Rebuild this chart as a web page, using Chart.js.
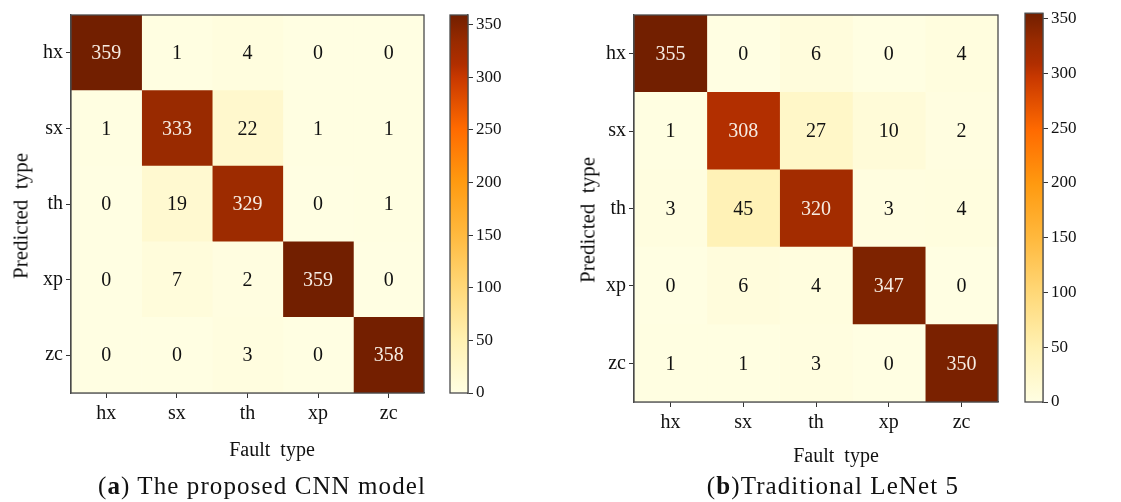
<!DOCTYPE html>
<html>
<head>
<meta charset="utf-8">
<script src="https://cdn.jsdelivr.net/npm/chart.js@4.4.1/dist/chart.umd.min.js"></script>
<style>
  body { margin: 0; background: #fff; width: 1121px; height: 502px; position: relative; overflow: hidden; font-family: "Liberation Serif", serif; color: #111; }
  .box { position: absolute; }
  .cap { position: absolute; top: 472px; font-size: 25px; letter-spacing: 1.1px; white-space: nowrap; transform: translateX(-50%); }
  .xt { position: absolute; font-size: 20px; white-space: pre; transform: translate(-50%, -50%); }
  .yt { position: absolute; font-size: 21px; white-space: pre; transform: translate(-50%, -50%) rotate(-90deg); }
</style>
</head>
<body>
<div class="box" style="left:0;top:0;width:440px;height:470px"><canvas id="matA"></canvas></div>
<div class="box" style="left:440px;top:0;width:80px;height:470px"><canvas id="barA"></canvas></div>
<div class="box" style="left:560px;top:0;width:440px;height:470px"><canvas id="matB"></canvas></div>
<div class="box" style="left:1005px;top:0;width:116px;height:470px"><canvas id="barB"></canvas></div>
<div class="yt" style="left:21px;top:216px">Predicted  type</div>
<div class="xt" style="left:272px;top:449px">Fault  type</div>
<div class="yt" style="left:588px;top:220px">Predicted  type</div>
<div class="xt" style="left:836px;top:455px">Fault  type</div>
<div class="cap" style="left:262px">(<b>a</b>) The proposed CNN model</div>
<div class="cap" style="left:833px">(<b>b</b>)Traditional LeNet 5</div>

<script>
// kategori kelas gangguan
const types = ['hx', 'sx', 'th', 'xp', 'zc'];

// confusion matrix (baris = predicted, kolom = fault type)
const cnnMatrix = [
    [359, 1, 4, 0, 0],
    [1, 333, 22, 1, 1],
    [0, 19, 329, 0, 1],
    [0, 7, 2, 359, 0],
    [0, 0, 3, 0, 358]
];
const lenetMatrix = [
    [355, 0, 6, 0, 4],
    [1, 308, 27, 10, 2],
    [3, 45, 320, 3, 4],
    [0, 6, 4, 347, 0],
    [1, 1, 3, 0, 350]
];
const cnnMax = 359;
const lenetMax = 355;
const cbTicks = [0, 50, 100, 150, 200, 250, 300, 350];

// colormap kira-kira seperti di gambar
const cmapStops = [
    [0.00, '#fffee2'],
    [0.14, '#fff1b2'],
    [0.28, '#ffd878'],
    [0.42, '#ffb93e'],
    [0.56, '#ff9a10'],
    [0.70, '#ff6a00'],
    [0.835, '#c83800'],
    [0.87, '#b02e00'],
    [0.93, '#982a00'],
    [1.00, '#721f00']
];

function hexRgb(h) {
    return [1, 3, 5].map(i => parseInt(h.substr(i, 2), 16));
}

function cmap(t) {
    t = Math.max(0, Math.min(1, t));
    for (let k = 1; k < cmapStops.length; k++) {
        const [t1, c1] = cmapStops[k];
        if (t <= t1) {
            const [t0, c0] = cmapStops[k - 1];
            const f = (t - t0) / (t1 - t0);
            const a = hexRgb(c0), b = hexRgb(c1);
            const c = a.map((v, i) => Math.round(v + (b[i] - v) * f));
            return `rgb(${c[0]},${c[1]},${c[2]})`;
        }
    }
    return cmapStops[cmapStops.length - 1][1];
}

const serif = '"Liberation Serif", "Times New Roman", serif';
const ink = '#111';
const frameColor = '#4a4a4a';

// bingkai di sekeliling area chart
const framePlugin = {
    id: 'frame',
    afterDraw(chart) {
        const a = chart.chartArea, c = chart.ctx;
        c.save();
        c.strokeStyle = frameColor;
        c.lineWidth = 1.3;
        c.strokeRect(a.left, a.top, a.width, a.height);
        c.restore();
    }
};

// angka di dalam sel
const cellTextPlugin = {
    id: 'cellText',
    afterDatasetsDraw(chart) {
        const c = chart.ctx;
        const { matrix, vmax } = chart.options.plugins.cellText;
        c.save();
        c.font = '20px ' + serif;
        c.textAlign = 'center';
        c.textBaseline = 'middle';
        chart.data.datasets.forEach((ds, j) => {
            chart.getDatasetMeta(j).data.forEach((el, i) => {
                const v = matrix[i][j];
                c.fillStyle = v > vmax * 0.5 ? '#f6ece2' : ink;
                c.fillText(String(v), (el.x + el.base) / 2, el.y + 1);
            });
        });
        c.restore();
    }
};

function makeMatrix(id, matrix, vmax, g) {
    const datasets = types.map((t, j) => ({
        label: t,
        data: types.map(() => [j, j + 1]),
        backgroundColor: matrix.map(row => cmap(row[j] / vmax)),
        borderWidth: 0,
        grouped: false,
        barPercentage: 1,
        categoryPercentage: 1
    }));
    return new Chart(document.getElementById(id), {
        type: 'bar',
        data: { labels: types, datasets: datasets },
        plugins: [cellTextPlugin, framePlugin],
        options: {
            indexAxis: 'y',
            responsive: true,
            maintainAspectRatio: false,
            animation: false,
            layout: { padding: { top: g.padTop, right: g.padRight, left: 0, bottom: 0 } },
            plugins: {
                legend: { display: false },
                tooltip: { enabled: false },
                cellText: { matrix: matrix, vmax: vmax }
            },
            scales: {
                y: {
                    type: 'category',
                    afterFit: s => { s.width = g.yW; },
                    grid: { drawOnChartArea: false, offset: false, tickLength: 5, color: '#333' },
                    border: { color: frameColor, width: 1.3 },
                    ticks: { color: ink, font: { family: serif, size: 20 }, padding: 3 }
                },
                x: {
                    type: 'linear',
                    min: 0,
                    max: types.length,
                    afterBuildTicks: s => { s.ticks = types.map((t, i) => ({ value: i + 0.5 })); },
                    afterFit: s => { s.height = g.xH; },
                    grid: { drawOnChartArea: false, tickLength: 5, color: '#333' },
                    border: { color: frameColor, width: 1.3 },
                    ticks: {
                        color: ink, font: { family: serif, size: 20 }, padding: 4,
                        maxRotation: 0, autoSkip: false,
                        callback: (v, i) => types[i]
                    }
                }
            }
        }
    });
}

function makeColorbar(id, vmax, g) {
    return new Chart(document.getElementById(id), {
        type: 'bar',
        data: {
            labels: [''],
            datasets: [{
                data: [vmax],
                borderWidth: 0,
                barPercentage: 1,
                categoryPercentage: 1,
                backgroundColor: ctx => {
                    const a = ctx.chart.chartArea;
                    if (!a) return cmap(0.5);
                    const grad = ctx.chart.ctx.createLinearGradient(0, a.bottom, 0, a.top);
                    cmapStops.forEach(([t, col]) => grad.addColorStop(t, col));
                    return grad;
                }
            }]
        },
        plugins: [framePlugin],
        options: {
            responsive: true,
            maintainAspectRatio: false,
            animation: false,
            layout: { padding: { top: g.padTop, left: g.padLeft, bottom: g.padBottom, right: 0 } },
            plugins: { legend: { display: false }, tooltip: { enabled: false } },
            scales: {
                x: { display: false },
                y: {
                    position: 'right',
                    min: 0,
                    max: vmax,
                    afterBuildTicks: s => { s.ticks = cbTicks.map(v => ({ value: v })); },
                    afterFit: s => { s.width = g.yW; },
                    grid: { drawOnChartArea: false, tickLength: 5, color: '#333' },
                    border: { color: frameColor, width: 1.3 },
                    ticks: { color: ink, font: { family: serif, size: 17 }, padding: 3 }
                }
            }
        }
    });
}

makeMatrix('matA', cnnMatrix, cnnMax, { padTop: 15, padRight: 16, yW: 71, xH: 77 });
makeColorbar('barA', cnnMax, { padTop: 15, padLeft: 10, padBottom: 77, yW: 52 });
makeMatrix('matB', lenetMatrix, lenetMax, { padTop: 12, padRight: 2, yW: 74, xH: 68 });
makeColorbar('barB', lenetMax, { padTop: 12, padLeft: 20, padBottom: 68, yW: 78 });
</script>
</body>
</html>
